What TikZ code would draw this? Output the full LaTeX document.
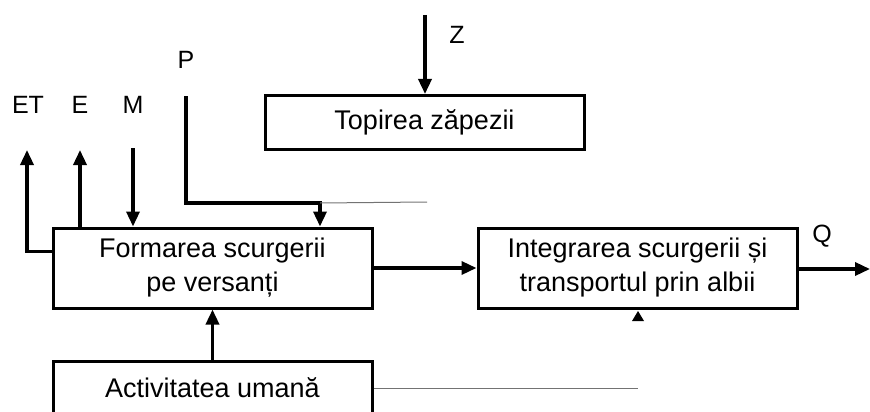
\documentclass[tikz,border=0pt]{standalone}
\usepackage{fontspec}
\setmainfont{Liberation Sans}
\usetikzlibrary{arrows.meta,calc}

\begin{document}
\begin{tikzpicture}[x=1pt,y=-1pt,
  blk/.style={draw,line width=3pt,rectangle,minimum width=319pt,inner sep=0pt,
              align=center,font=\fontsize{27}{34}\selectfont},
  flow/.style={line width=3.4pt,-{Triangle[length=15pt,width=13pt]}},
  faint/.style={line width=1pt,black!55},
  lbl/.style={font=\fontsize{25}{28}\selectfont,inner sep=0pt}]
\useasboundingbox (0,0) rectangle (870,412);
\clip (0,0) rectangle (870,412);

% process blocks
\node[blk,minimum height=80pt] (form)  at (212.5,268) {Formarea scurgerii\\pe versanți};
\node[blk,minimum height=80pt] (integ) at (637.5,268) {Integrarea scurgerii și\\transportul prin albii};
\node[blk,minimum height=54pt] (topi)  at (424.5,122.5) {Topirea zăpezii};
\node[blk,minimum height=54pt] (activ) at (212.5,388) {Activitatea umană};

% input / output labels
\node[lbl] (et) at (28,105) {ET};
\node[lbl] (e)  at (80,105) {E};
\node[lbl] (m)  at (133,105) {M};
\node[lbl] (p)  at (186,60) {P};
\node[lbl] (z)  at (457,35) {Z};
\node[lbl] (q)  at (822,236) {Q};

% helper points
\coordinate (etout) at (27,150);
\coordinate (eout)  at (80,150);
\coordinate (min)   at (133,148);
\coordinate (pin)   at (186,96);
\coordinate (pbend) at (320,203);
\coordinate (pend)  at (427,202);
\coordinate (zin)   at (425,15);
\coordinate (qout)  at (870,269);
\coordinate (hum)   at (638,388);

% evapotranspiration and evaporation leaving the slopes
\draw[flow] ($(form.north west)+(0,25)$) -| (etout);
\draw[flow] (form.north west -| eout) -- (eout);
% inputs into slope runoff
\draw[flow] (min) -- (form.north west -| min);
\draw[flow] (pin) |- (pbend) -- (form.north west -| pbend);
\draw[faint] (pbend) -- (pend);
% snowmelt
\draw[flow] (zin) -- (topi.north -| zin);
% runoff chain
\draw[flow] (form.east) -- (integ.west);
\draw[flow] (integ.east |- qout) -- (qout);
% human activity
\draw[flow] (activ.north) -- (form.south);
\draw[faint] (activ.east) -- (hum);
\fill (integ.south -| hum) ++(0,1.5) -- ++(-6,10) -- ++(12,0) -- cycle;
\end{tikzpicture}
\end{document}
